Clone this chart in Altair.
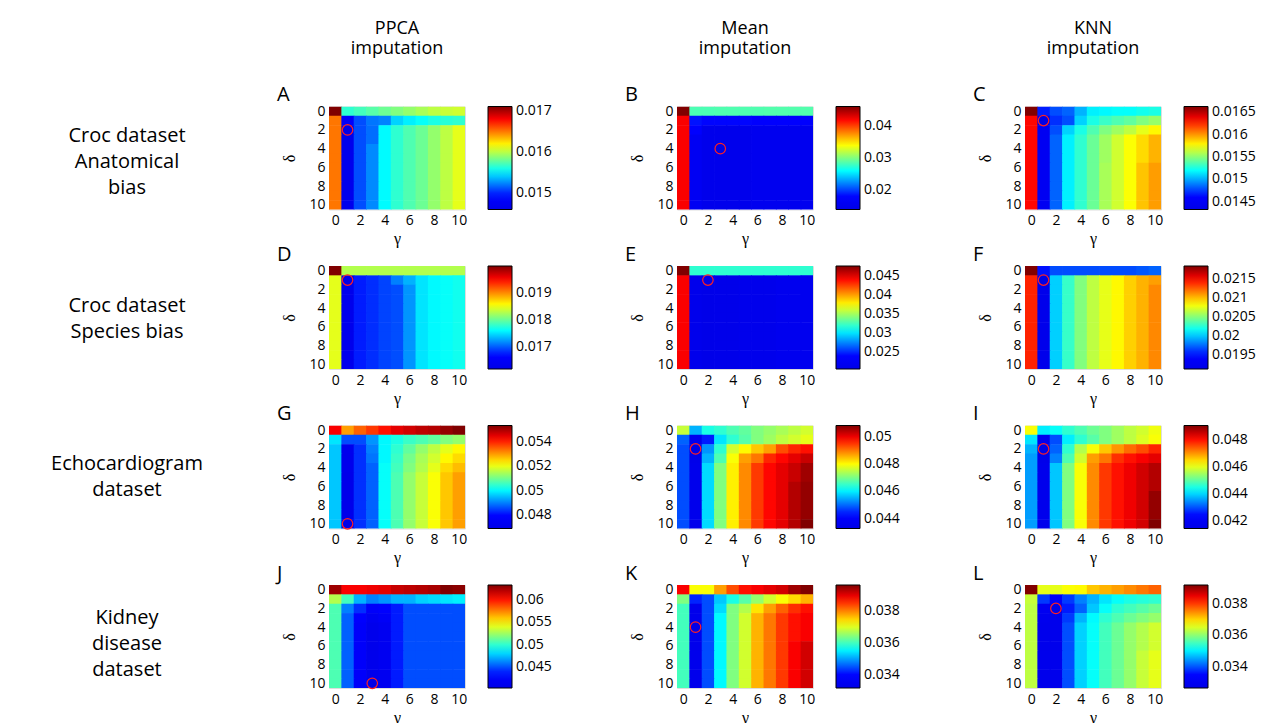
import altair as alt
import pandas as pd

FONT = "Open Sans"
SERIF = "Liberation Serif"

GAMMA = list(range(11))
DELTA = list(range(11))
AXIS_TICKS = [0, 2, 4, 6, 8, 10]
LETTERS = ["A", "B", "C", "D", "E", "F", "G", "H", "I", "J", "K", "L"]
COL_TITLES = ["PPCA\nimputation", "Mean\nimputation", "KNN\nimputation"]
ROW_TITLES = ["Croc dataset\nAnatomical\nbias", "Croc dataset\nSpecies bias",
              "Echocardiogram\ndataset", "Kidney\ndisease\ndataset"]
ROW_LABEL_Y = [29, 39.5, 38, 33]

# colour-bar limits of each panel (A..L)
COLOR_LO = [0.0146, 0.0138, 0.01433, 0.01617, 0.02055, 0.01914,
            0.04693, 0.04328, 0.04145, 0.0403, 0.03315, 0.03265]
COLOR_HI = [0.0171, 0.0463, 0.01663, 0.02001, 0.04767, 0.02185,
            0.05532, 0.05081, 0.04907, 0.0634, 0.03967, 0.03918]
LEGEND_TICKS = [
    [0.015, 0.016, 0.017],
    [0.02, 0.03, 0.04],
    [0.0145, 0.015, 0.0155, 0.016, 0.0165],
    [0.017, 0.018, 0.019],
    [0.025, 0.03, 0.035, 0.04, 0.045],
    [0.0195, 0.02, 0.0205, 0.021, 0.0215],
    [0.048, 0.05, 0.052, 0.054],
    [0.044, 0.046, 0.048, 0.05],
    [0.042, 0.044, 0.046, 0.048],
    [0.045, 0.05, 0.055, 0.06],
    [0.034, 0.036, 0.038],
    [0.034, 0.036, 0.038],
]
# (gamma, delta) of the red circle in each panel
BEST = [(1, 2), (3, 4), (1, 1), (1, 1), (2, 1), (1, 1),
        (1, 10), (1, 2), (1, 2), (3, 10), (1, 4), (2, 2)]

# grids: rows = delta 0..10, columns = gamma 0..10
GRID_A = [
    [0.0171, 0.01565, 0.0157, 0.01575, 0.0158, 0.01585, 0.0159, 0.01595, 0.0160, 0.01603, 0.01605],
    [0.0165, 0.01485, 0.0151, 0.0152, 0.01523, 0.01543, 0.0155, 0.01555, 0.0156, 0.01563, 0.01565],
    [0.0165, 0.0146, 0.0151, 0.01518, 0.01553, 0.01565, 0.01573, 0.0158, 0.0159, 0.0160, 0.0161],
    [0.0165, 0.01465, 0.0151, 0.01518, 0.01553, 0.01565, 0.01573, 0.0158, 0.0159, 0.0160, 0.0161],
    [0.0165, 0.01465, 0.0151, 0.01525, 0.01553, 0.01565, 0.01573, 0.0158, 0.0159, 0.0160, 0.0161],
    [0.0165, 0.01465, 0.0151, 0.01525, 0.01553, 0.01565, 0.01573, 0.0158, 0.0159, 0.0160, 0.0161],
    [0.0165, 0.01465, 0.0151, 0.01525, 0.01553, 0.01565, 0.01573, 0.0158, 0.0159, 0.0160, 0.0161],
    [0.0165, 0.01465, 0.0151, 0.01525, 0.01553, 0.01565, 0.01573, 0.0158, 0.0159, 0.0160, 0.0161],
    [0.0165, 0.01465, 0.0151, 0.01525, 0.01553, 0.01565, 0.01573, 0.0158, 0.0159, 0.0160, 0.0161],
    [0.0165, 0.01465, 0.0151, 0.01525, 0.01553, 0.01565, 0.01573, 0.0158, 0.0159, 0.0160, 0.0161],
    [0.0165, 0.01465, 0.0151, 0.01525, 0.01553, 0.01565, 0.01573, 0.0158, 0.0159, 0.0160, 0.0161],
]
GRID_B = [
    [0.0463, 0.0284, 0.0284, 0.0285, 0.0285, 0.0285, 0.0285, 0.0286, 0.0286, 0.0286, 0.0286],
    [0.0424, 0.0184, 0.0180, 0.0180, 0.0180, 0.0180, 0.0177, 0.0177, 0.0177, 0.0177, 0.0177],
    [0.0424, 0.0177, 0.0145, 0.0145, 0.0145, 0.0145, 0.0151, 0.0151, 0.0151, 0.0151, 0.0151],
    [0.0424, 0.0158, 0.0145, 0.0145, 0.0145, 0.0145, 0.0151, 0.0151, 0.0151, 0.0151, 0.0151],
    [0.0424, 0.0158, 0.0145, 0.0138, 0.0145, 0.0145, 0.0151, 0.0151, 0.0151, 0.0151, 0.0151],
    [0.0424, 0.0158, 0.0145, 0.0145, 0.0145, 0.0145, 0.0151, 0.0151, 0.0151, 0.0151, 0.0151],
    [0.0424, 0.0158, 0.0145, 0.0145, 0.0145, 0.0145, 0.0151, 0.0151, 0.0151, 0.0151, 0.0151],
    [0.0424, 0.0158, 0.0145, 0.0145, 0.0145, 0.0145, 0.0151, 0.0151, 0.0151, 0.0151, 0.0151],
    [0.0424, 0.0158, 0.0145, 0.0145, 0.0145, 0.0145, 0.0151, 0.0151, 0.0151, 0.0151, 0.0151],
    [0.0424, 0.0158, 0.0145, 0.0145, 0.0145, 0.0145, 0.0151, 0.0151, 0.0151, 0.0151, 0.0151],
    [0.0424, 0.0158, 0.0145, 0.0145, 0.0145, 0.0145, 0.0151, 0.0151, 0.0151, 0.0151, 0.0151],
]
GRID_C = [
    [0.01663, 0.01468, 0.01479, 0.01484, 0.01502, 0.01516, 0.01518, 0.01520, 0.01520, 0.01523, 0.01525],
    [0.01633, 0.01433, 0.01472, 0.01479, 0.01509, 0.01525, 0.01532, 0.01537, 0.01541, 0.01548, 0.01553],
    [0.01633, 0.01445, 0.01479, 0.01509, 0.01525, 0.01537, 0.01548, 0.01555, 0.01562, 0.01571, 0.01578],
    [0.01633, 0.01445, 0.01484, 0.01516, 0.01530, 0.01543, 0.01555, 0.01566, 0.01576, 0.01585, 0.01594],
    [0.01633, 0.01445, 0.01484, 0.01516, 0.01530, 0.01543, 0.01555, 0.01566, 0.01576, 0.01585, 0.01594],
    [0.01633, 0.01445, 0.01484, 0.01516, 0.01530, 0.01543, 0.01555, 0.01566, 0.01576, 0.01585, 0.01594],
    [0.01633, 0.01445, 0.01484, 0.01516, 0.01530, 0.01543, 0.01557, 0.01566, 0.01576, 0.01590, 0.01599],
    [0.01633, 0.01445, 0.01484, 0.01516, 0.01530, 0.01543, 0.01557, 0.01566, 0.01576, 0.01590, 0.01599],
    [0.01633, 0.01445, 0.01484, 0.01516, 0.01530, 0.01543, 0.01557, 0.01566, 0.01576, 0.01590, 0.01599],
    [0.01633, 0.01445, 0.01484, 0.01516, 0.01530, 0.01543, 0.01557, 0.01566, 0.01576, 0.01590, 0.01599],
    [0.01633, 0.01445, 0.01484, 0.01516, 0.01530, 0.01543, 0.01557, 0.01566, 0.01576, 0.01590, 0.01599],
]
GRID_D = [
    [0.02001, 0.01828, 0.01828, 0.01828, 0.01828, 0.01828, 0.01828, 0.01828, 0.01828, 0.01828, 0.01828],
    [0.01847, 0.01617, 0.01675, 0.01682, 0.01690, 0.01713, 0.01732, 0.01751, 0.01759, 0.01763, 0.01767],
    [0.01847, 0.01625, 0.01675, 0.01682, 0.01690, 0.01694, 0.01721, 0.01751, 0.01759, 0.01763, 0.01767],
    [0.01847, 0.01625, 0.01675, 0.01682, 0.01690, 0.01694, 0.01721, 0.01751, 0.01759, 0.01763, 0.01767],
    [0.01847, 0.01625, 0.01675, 0.01682, 0.01690, 0.01694, 0.01721, 0.01751, 0.01759, 0.01763, 0.01767],
    [0.01847, 0.01625, 0.01675, 0.01682, 0.01690, 0.01694, 0.01721, 0.01751, 0.01759, 0.01763, 0.01767],
    [0.01847, 0.01625, 0.01675, 0.01682, 0.01690, 0.01694, 0.01721, 0.01751, 0.01759, 0.01763, 0.01767],
    [0.01847, 0.01625, 0.01675, 0.01682, 0.01690, 0.01694, 0.01721, 0.01751, 0.01759, 0.01763, 0.01767],
    [0.01847, 0.01625, 0.01675, 0.01682, 0.01690, 0.01694, 0.01721, 0.01751, 0.01759, 0.01763, 0.01767],
    [0.01847, 0.01625, 0.01675, 0.01682, 0.01690, 0.01694, 0.01721, 0.01751, 0.01759, 0.01763, 0.01767],
    [0.01847, 0.01625, 0.01675, 0.01682, 0.01690, 0.01694, 0.01721, 0.01751, 0.01759, 0.01763, 0.01767],
]
GRID_E = [
    [0.04767, 0.03194, 0.03194, 0.03194, 0.03194, 0.03194, 0.03194, 0.03194, 0.03194, 0.03194, 0.03194],
    [0.04442, 0.02109, 0.02055, 0.02082, 0.02082, 0.02109, 0.02109, 0.02109, 0.02163, 0.02163, 0.02163],
    [0.04442, 0.02109, 0.02070, 0.02082, 0.02082, 0.02109, 0.02109, 0.02109, 0.02163, 0.02163, 0.02163],
    [0.04442, 0.02109, 0.02070, 0.02082, 0.02082, 0.02109, 0.02109, 0.02109, 0.02163, 0.02163, 0.02163],
    [0.04442, 0.02109, 0.02070, 0.02082, 0.02082, 0.02109, 0.02109, 0.02109, 0.02163, 0.02163, 0.02163],
    [0.04442, 0.02109, 0.02070, 0.02082, 0.02082, 0.02109, 0.02109, 0.02109, 0.02163, 0.02163, 0.02163],
    [0.04442, 0.02109, 0.02070, 0.02082, 0.02082, 0.02109, 0.02109, 0.02109, 0.02163, 0.02163, 0.02163],
    [0.04442, 0.02109, 0.02070, 0.02082, 0.02082, 0.02109, 0.02109, 0.02109, 0.02163, 0.02163, 0.02163],
    [0.04442, 0.02109, 0.02070, 0.02082, 0.02082, 0.02109, 0.02109, 0.02109, 0.02163, 0.02163, 0.02163],
    [0.04442, 0.02109, 0.02070, 0.02082, 0.02082, 0.02109, 0.02109, 0.02109, 0.02163, 0.02163, 0.02163],
    [0.04442, 0.02109, 0.02070, 0.02082, 0.02082, 0.02109, 0.02109, 0.02109, 0.02163, 0.02163, 0.02163],
]
GRID_F = [
    [0.02185, 0.01952, 0.01968, 0.01968, 0.01968, 0.01968, 0.01968, 0.01968, 0.01968, 0.01971, 0.01974],
    [0.02142, 0.01914, 0.02003, 0.02030, 0.02050, 0.02066, 0.02077, 0.02085, 0.02096, 0.02104, 0.02109],
    [0.02142, 0.01919, 0.02003, 0.02030, 0.02050, 0.02066, 0.02077, 0.02085, 0.02096, 0.02104, 0.02115],
    [0.02142, 0.01919, 0.02003, 0.02030, 0.02050, 0.02066, 0.02077, 0.02085, 0.02096, 0.02104, 0.02115],
    [0.02142, 0.01919, 0.02003, 0.02030, 0.02050, 0.02066, 0.02077, 0.02085, 0.02096, 0.02104, 0.02115],
    [0.02142, 0.01919, 0.02003, 0.02030, 0.02050, 0.02066, 0.02077, 0.02085, 0.02096, 0.02104, 0.02115],
    [0.02142, 0.01919, 0.02003, 0.02030, 0.02050, 0.02066, 0.02077, 0.02085, 0.02096, 0.02104, 0.02115],
    [0.02142, 0.01919, 0.02003, 0.02030, 0.02050, 0.02066, 0.02077, 0.02085, 0.02096, 0.02104, 0.02115],
    [0.02142, 0.01919, 0.02003, 0.02030, 0.02050, 0.02066, 0.02077, 0.02085, 0.02096, 0.02104, 0.02115],
    [0.02142, 0.01919, 0.02003, 0.02030, 0.02050, 0.02066, 0.02077, 0.02085, 0.02096, 0.02104, 0.02115],
    [0.02142, 0.01919, 0.02003, 0.02030, 0.02050, 0.02066, 0.02077, 0.02085, 0.02096, 0.02104, 0.02115],
]
GRID_G = [
    [0.05431, 0.05297, 0.05347, 0.05381, 0.05415, 0.05448, 0.05465, 0.05482, 0.05490, 0.05515, 0.05532],
    [0.04987, 0.04861, 0.04861, 0.04920, 0.05003, 0.05029, 0.05054, 0.05070, 0.05087, 0.05113, 0.05129],
    [0.04961, 0.04718, 0.04836, 0.04903, 0.05003, 0.05045, 0.05087, 0.05129, 0.05163, 0.05196, 0.05222],
    [0.04961, 0.04710, 0.04836, 0.04894, 0.05003, 0.05054, 0.05104, 0.05146, 0.05180, 0.05222, 0.05247],
    [0.04961, 0.04710, 0.04836, 0.04878, 0.05012, 0.05062, 0.05113, 0.05154, 0.05196, 0.05247, 0.05272],
    [0.04961, 0.04701, 0.04836, 0.04878, 0.05012, 0.05070, 0.05129, 0.05171, 0.05213, 0.05264, 0.05297],
    [0.04961, 0.04701, 0.04836, 0.04878, 0.05012, 0.05070, 0.05129, 0.05171, 0.05213, 0.05264, 0.05297],
    [0.04961, 0.04701, 0.04836, 0.04878, 0.05012, 0.05070, 0.05129, 0.05171, 0.05213, 0.05264, 0.05297],
    [0.04961, 0.04701, 0.04836, 0.04878, 0.05012, 0.05070, 0.05129, 0.05171, 0.05213, 0.05264, 0.05297],
    [0.04961, 0.04701, 0.04836, 0.04878, 0.05012, 0.05070, 0.05129, 0.05171, 0.05213, 0.05264, 0.05297],
    [0.04961, 0.04693, 0.04836, 0.04878, 0.05012, 0.05070, 0.05129, 0.05171, 0.05213, 0.05264, 0.05297],
]
GRID_H = [
    [0.04757, 0.04554, 0.04629, 0.04644, 0.04667, 0.04682, 0.04705, 0.04720, 0.04735, 0.04750, 0.04765],
    [0.04494, 0.04351, 0.04441, 0.04592, 0.04644, 0.04674, 0.04705, 0.04727, 0.04750, 0.04765, 0.04780],
    [0.04479, 0.04328, 0.04531, 0.04644, 0.04765, 0.04802, 0.04840, 0.04870, 0.04930, 0.04960, 0.04976],
    [0.04479, 0.04336, 0.04554, 0.04667, 0.04795, 0.04870, 0.04900, 0.04960, 0.04983, 0.05006, 0.05028],
    [0.04479, 0.04343, 0.04584, 0.04705, 0.04810, 0.04885, 0.04945, 0.04983, 0.05006, 0.05028, 0.05058],
    [0.04479, 0.04343, 0.04584, 0.04705, 0.04810, 0.04885, 0.04945, 0.04983, 0.05006, 0.05028, 0.05058],
    [0.04479, 0.04343, 0.04584, 0.04705, 0.04810, 0.04885, 0.04945, 0.04983, 0.05006, 0.05043, 0.05066],
    [0.04479, 0.04343, 0.04584, 0.04705, 0.04810, 0.04885, 0.04945, 0.04983, 0.05006, 0.05043, 0.05066],
    [0.04479, 0.04343, 0.04584, 0.04705, 0.04810, 0.04885, 0.04945, 0.04983, 0.05006, 0.05043, 0.05066],
    [0.04479, 0.04343, 0.04584, 0.04705, 0.04810, 0.04885, 0.04945, 0.04983, 0.05006, 0.05043, 0.05066],
    [0.04479, 0.04343, 0.04584, 0.04705, 0.04810, 0.04885, 0.04945, 0.04983, 0.05006, 0.05043, 0.05081],
]
GRID_I = [
    [0.04617, 0.04419, 0.04435, 0.04465, 0.04488, 0.04511, 0.04526, 0.04549, 0.04572, 0.04587, 0.04610],
    [0.04412, 0.04168, 0.04297, 0.04419, 0.04465, 0.04496, 0.04526, 0.04549, 0.04572, 0.04595, 0.04617],
    [0.04374, 0.04145, 0.04313, 0.04465, 0.04564, 0.04617, 0.04663, 0.04701, 0.04732, 0.04755, 0.04785],
    [0.04358, 0.04153, 0.04336, 0.04488, 0.04587, 0.04694, 0.04724, 0.04777, 0.04800, 0.04816, 0.04831],
    [0.04358, 0.04160, 0.04389, 0.04526, 0.04617, 0.04709, 0.04770, 0.04800, 0.04823, 0.04846, 0.04869],
    [0.04358, 0.04160, 0.04389, 0.04526, 0.04617, 0.04709, 0.04770, 0.04800, 0.04823, 0.04846, 0.04869],
    [0.04358, 0.04160, 0.04389, 0.04526, 0.04617, 0.04709, 0.04770, 0.04800, 0.04823, 0.04846, 0.04869],
    [0.04358, 0.04160, 0.04389, 0.04526, 0.04617, 0.04709, 0.04770, 0.04800, 0.04823, 0.04846, 0.04892],
    [0.04358, 0.04160, 0.04389, 0.04526, 0.04617, 0.04709, 0.04770, 0.04800, 0.04823, 0.04846, 0.04892],
    [0.04358, 0.04160, 0.04389, 0.04526, 0.04617, 0.04709, 0.04770, 0.04800, 0.04823, 0.04846, 0.04892],
    [0.04358, 0.04160, 0.04389, 0.04526, 0.04617, 0.04709, 0.04770, 0.04800, 0.04823, 0.04846, 0.04907],
]
GRID_J = [
    [0.06271, 0.06063, 0.06063, 0.06086, 0.06109, 0.06178, 0.06201, 0.06225, 0.06248, 0.06340, 0.06317],
    [0.05301, 0.05046, 0.04723, 0.04608, 0.04654, 0.04723, 0.04723, 0.04792, 0.04815, 0.04839, 0.04862],
    [0.05070, 0.04608, 0.04423, 0.04261, 0.04307, 0.04377, 0.04492, 0.04492, 0.04492, 0.04492, 0.04492],
    [0.05070, 0.04538, 0.04307, 0.04146, 0.04215, 0.04377, 0.04492, 0.04492, 0.04492, 0.04492, 0.04492],
    [0.05070, 0.04538, 0.04261, 0.04076, 0.04146, 0.04377, 0.04492, 0.04492, 0.04492, 0.04492, 0.04492],
    [0.05070, 0.04538, 0.04261, 0.04076, 0.04146, 0.04377, 0.04492, 0.04492, 0.04492, 0.04492, 0.04492],
    [0.05070, 0.04538, 0.04261, 0.04076, 0.04146, 0.04377, 0.04492, 0.04492, 0.04492, 0.04492, 0.04492],
    [0.05070, 0.04538, 0.04261, 0.04076, 0.04146, 0.04377, 0.04492, 0.04492, 0.04492, 0.04492, 0.04492],
    [0.05070, 0.04538, 0.04261, 0.04076, 0.04146, 0.04377, 0.04492, 0.04492, 0.04492, 0.04492, 0.04492],
    [0.05070, 0.04538, 0.04261, 0.04076, 0.04146, 0.04377, 0.04492, 0.04492, 0.04492, 0.04492, 0.04492],
    [0.05070, 0.04538, 0.04261, 0.04030, 0.04146, 0.04377, 0.04492, 0.04492, 0.04492, 0.04492, 0.04492],
]
GRID_K = [
    [0.03889, 0.03719, 0.03719, 0.03784, 0.03837, 0.03876, 0.03889, 0.03902, 0.03915, 0.03947, 0.03967],
    [0.03641, 0.03419, 0.03445, 0.03524, 0.03576, 0.03615, 0.03654, 0.03693, 0.03719, 0.03745, 0.03771],
    [0.03602, 0.03328, 0.03445, 0.03537, 0.03641, 0.03674, 0.03739, 0.03784, 0.03824, 0.03856, 0.03876],
    [0.03602, 0.03328, 0.03445, 0.03556, 0.03641, 0.03693, 0.03771, 0.03810, 0.03850, 0.03876, 0.03889],
    [0.03602, 0.03315, 0.03445, 0.03556, 0.03641, 0.03693, 0.03771, 0.03810, 0.03850, 0.03876, 0.03889],
    [0.03602, 0.03328, 0.03445, 0.03556, 0.03641, 0.03693, 0.03771, 0.03810, 0.03850, 0.03876, 0.03889],
    [0.03602, 0.03328, 0.03445, 0.03556, 0.03641, 0.03693, 0.03771, 0.03810, 0.03850, 0.03889, 0.03915],
    [0.03602, 0.03328, 0.03445, 0.03556, 0.03641, 0.03693, 0.03771, 0.03810, 0.03850, 0.03889, 0.03915],
    [0.03602, 0.03328, 0.03445, 0.03556, 0.03641, 0.03693, 0.03771, 0.03810, 0.03850, 0.03889, 0.03915],
    [0.03602, 0.03328, 0.03445, 0.03556, 0.03641, 0.03693, 0.03771, 0.03810, 0.03850, 0.03889, 0.03915],
    [0.03602, 0.03328, 0.03445, 0.03556, 0.03641, 0.03693, 0.03771, 0.03810, 0.03850, 0.03889, 0.03915],
]
GRID_L = [
    [0.03918, 0.03657, 0.03657, 0.03670, 0.03676, 0.03709, 0.03722, 0.03735, 0.03748, 0.03761, 0.03774],
    [0.03637, 0.03383, 0.03330, 0.03383, 0.03428, 0.03461, 0.03494, 0.03513, 0.03526, 0.03533, 0.03539],
    [0.03631, 0.03298, 0.03265, 0.03363, 0.03409, 0.03474, 0.03513, 0.03539, 0.03552, 0.03565, 0.03578],
    [0.03631, 0.03285, 0.03278, 0.03383, 0.03461, 0.03507, 0.03539, 0.03559, 0.03578, 0.03592, 0.03605],
    [0.03631, 0.03278, 0.03278, 0.03396, 0.03481, 0.03513, 0.03552, 0.03578, 0.03605, 0.03624, 0.03644],
    [0.03631, 0.03278, 0.03278, 0.03396, 0.03481, 0.03513, 0.03552, 0.03578, 0.03605, 0.03624, 0.03644],
    [0.03631, 0.03278, 0.03278, 0.03396, 0.03481, 0.03513, 0.03552, 0.03578, 0.03605, 0.03624, 0.03644],
    [0.03631, 0.03278, 0.03278, 0.03396, 0.03481, 0.03513, 0.03552, 0.03578, 0.03605, 0.03637, 0.03657],
    [0.03631, 0.03278, 0.03278, 0.03396, 0.03481, 0.03513, 0.03552, 0.03578, 0.03605, 0.03637, 0.03657],
    [0.03631, 0.03278, 0.03278, 0.03396, 0.03481, 0.03513, 0.03552, 0.03578, 0.03605, 0.03637, 0.03657],
    [0.03631, 0.03278, 0.03278, 0.03396, 0.03481, 0.03513, 0.03552, 0.03578, 0.03605, 0.03637, 0.03657],
]
GRIDS = [GRID_A, GRID_B, GRID_C, GRID_D, GRID_E, GRID_F,
         GRID_G, GRID_H, GRID_I, GRID_J, GRID_K, GRID_L]

JET = ["#0000e8", "#0000ff", "#0080ff", "#00ffff", "#80ff80",
       "#ffff00", "#ff8000", "#ff0000", "#800000"]

PW, PH = 136, 103


def make_axis(title_pad):
    return alt.Axis(values=AXIS_TICKS, ticks=False, domain=False, grid=False,
                    labelFontSize=14, labelPadding=4, labelFont=FONT,
                    labelColor="black", labelFlush=False, labelOverlap=False,
                    labelBound=False,
                    titleFont=SERIF, titleFontSize=16, titleFontWeight="normal",
                    titlePadding=title_pad, titleColor="black")


def panel(i):
    grid = GRIDS[i]
    recs = []
    for d in DELTA:
        for g in GAMMA:
            recs.append({"g": g, "d": d, "value": grid[d][g],
                         "best": (g, d) == BEST[i]})
    df = pd.DataFrame(recs)
    lo, hi = COLOR_LO[i], COLOR_HI[i]
    stops = [lo + (hi - lo) * k / 8 for k in range(9)]
    xs = alt.Scale(domain=[-0.5, 10.5], nice=False, zero=False)
    ys = alt.Scale(domain=[-0.5, 10.5], nice=False, zero=False, reverse=True)
    xaxis = make_axis(3)
    yaxis = make_axis(11)
    cscale = alt.Scale(domain=stops, range=JET, interpolate="rgb")
    # cells overlap their right/lower neighbour slightly so no seams show
    base = alt.Chart(df).transform_calculate(
        g0="datum.g - 0.5", g1="datum.g + 0.56",
        d0="datum.d - 0.5", d1="datum.d + 0.56")
    heat = base.mark_rect(strokeWidth=0, clip=True).encode(
        x=alt.X("g0:Q", scale=xs, axis=xaxis, title="γ"),
        x2="g1:Q",
        y=alt.Y("d0:Q", scale=ys, axis=yaxis, title="δ"),
        y2="d1:Q",
        color=alt.Color(
            "value:Q", scale=cscale,
            legend=alt.Legend(
                type="gradient",
                title=None, values=LEGEND_TICKS[i],
                labelExpr="format(datum.value, '~g')",
                orient="right", direction="vertical", offset=23, padding=0,
                gradientLength=PH, gradientThickness=24,
                gradientStrokeColor="black", gradientStrokeWidth=1,
                labelFontSize=14, labelFont=FONT, labelColor="black",
                labelOffset=4, labelOverlap=False),
        ),
    )
    circ = base.transform_filter("datum.best").mark_point(
        shape="circle", filled=False, color="#ff2020", size=110,
        strokeWidth=1.2, opacity=1).encode(
        x=alt.X("g:Q", scale=xs, axis=xaxis, title="γ"),
        y=alt.Y("d:Q", scale=ys, axis=yaxis, title="δ"),
    )
    return alt.layer(heat, circ).properties(
        width=PW, height=PH,
        title=alt.TitleParams(LETTERS[i], anchor="start", frame="group",
                              dx=-52, dy=21, offset=4, baseline="alphabetic",
                              fontSize=20, fontWeight="normal", font=FONT,
                              color="black"),
    )


def text_chart(txt, w, h, x, y, size, lh):
    return alt.Chart(pd.DataFrame({"t": [txt]})).mark_text(
        lineBreak="\n", fontSize=size, lineHeight=lh, font=FONT,
        align="center", baseline="middle", color="black",
    ).encode(text="t:N", x=alt.value(x), y=alt.value(y)).properties(
        width=w, height=h, view=alt.ViewBackground(stroke="transparent"))


HEADER_H = 40.5
LABEL_W = 108
charts = [text_chart(" ", LABEL_W, HEADER_H, 10, 10, 12, 14)]
for t in COL_TITLES:
    charts.append(text_chart(t, PW, HEADER_H, PW / 2, 19.5, 18, 20))
for r in range(4):
    charts.append(text_chart(ROW_TITLES[r], LABEL_W, PH, 118, ROW_LABEL_Y[r], 20, 26))
    for c in range(3):
        charts.append(panel(r * 3 + c))

chart = alt.concat(
    *charts, columns=4, spacing={"row": 56.5, "column": 212}, bounds="flush"
).resolve_scale(
    color="independent", x="independent", y="independent"
).resolve_legend(color="independent").configure_view(
    stroke="black", strokeWidth=1
).configure(font=FONT).properties(padding=0, background="white")

chart.save("out.html", embed_options={"renderer": "svg", "actions": False})
